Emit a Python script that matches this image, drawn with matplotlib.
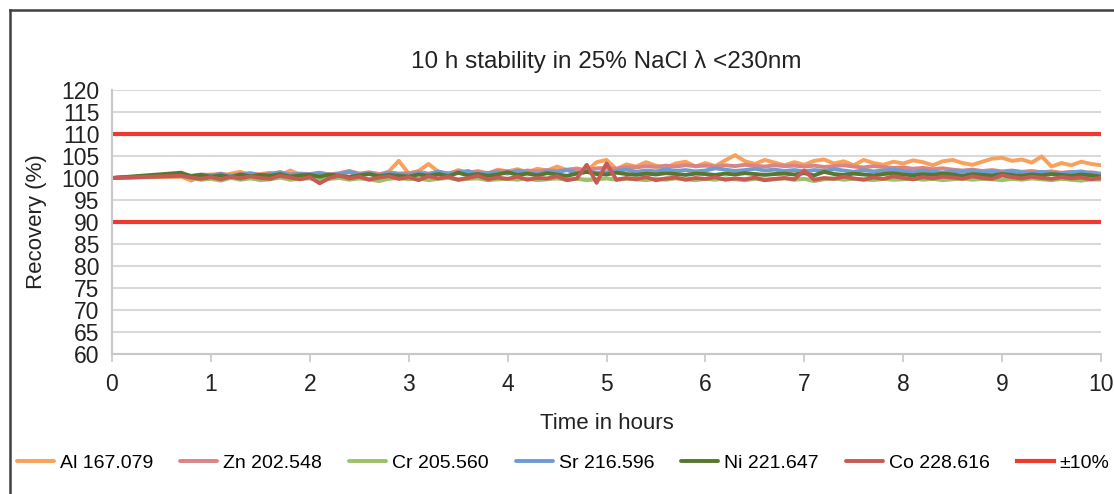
import numpy as np
import matplotlib.pyplot as plt
from matplotlib.lines import Line2D

plt.rcParams['font.family'] = ['Liberation Sans', 'DejaVu Sans']

# time axis: start point, then readings every 0.1 h from 0.7 h to 10 h
hours = np.concatenate([[0.0], np.round(np.arange(0.7, 10.001, 0.1), 1)])

al = [100.0,
      100.3, 99.4, 100.4,
      100.8, 100.3, 101.0, 101.4, 100.6, 100.9, 101.2, 100.5, 101.7, 100.8,
      100.6, 101.0, 100.4, 100.9, 101.3, 100.6, 101.0, 100.7, 101.5, 103.9,
      101.0, 101.6, 103.2, 101.4, 100.8, 101.8, 101.2, 101.6, 101.0, 101.9,
      101.5, 102.0, 101.3, 102.1, 101.7, 102.6, 101.8, 102.2, 101.6, 103.6,
      104.1, 102.0, 103.1, 102.6, 103.6, 102.8, 102.3, 103.3, 103.7, 102.6,
      103.4, 102.7, 104.0, 105.2, 103.8, 103.2, 104.1, 103.5, 102.9, 103.6,
      103.0, 103.9, 104.2, 103.3, 103.8, 102.9, 104.1, 103.4, 103.0, 103.7,
      103.3, 104.0, 103.6, 102.9, 103.8, 104.1, 103.4, 103.0, 103.7, 104.4,
      104.6, 103.9, 104.2, 103.5, 104.9, 102.6, 103.4, 102.9, 103.7, 103.2,
      102.9]

zn = [100.0,
      100.6, 100.5, 100.8,
      100.7, 101.0, 100.6, 100.9, 101.1, 100.7, 101.0, 101.3, 100.8, 101.0,
      100.9, 101.2, 100.8, 101.1, 101.6, 101.0, 101.3, 100.9, 101.2, 101.0,
      101.1, 101.4, 101.0, 101.3, 101.1, 101.5, 101.2, 101.4, 101.1, 101.6,
      101.5, 101.3, 101.7, 101.5, 101.8, 101.6, 101.9, 102.0, 101.8, 102.2,
      102.3, 102.1, 102.5, 102.4, 102.7, 102.5, 102.8, 102.6, 102.9, 102.7,
      102.8, 102.6, 102.9, 102.7, 103.0, 102.8, 102.6, 102.9, 102.7, 102.8,
      102.6, 102.8, 102.5, 102.7, 102.9, 102.6, 102.4, 102.7, 102.5, 102.3,
      102.4, 102.1, 102.3, 102.0, 102.2, 101.9, 101.7, 101.9, 101.6, 101.8,
      101.5, 101.7, 101.4, 101.6, 101.3, 101.5, 101.2, 101.4, 101.1, 101.3,
      101.0]

cr = [100.0,
      100.6, 99.9, 99.6,
      99.8, 99.4, 100.0, 99.6, 99.9, 99.5, 99.7, 100.1, 99.6, 99.8,
      99.9, 99.5, 99.8, 100.0, 99.6, 99.9, 99.7, 99.3, 99.8, 100.0,
      99.7, 99.9, 99.5, 99.8, 100.0, 99.6, 99.8, 99.9, 99.5, 99.7,
      99.8, 99.6, 99.9, 99.5, 99.7, 99.9, 99.6, 99.8, 99.5, 99.7,
      99.9, 99.6, 99.8, 99.7, 99.5, 99.8, 99.6, 99.9, 99.7, 99.5,
      99.8, 99.6, 99.9, 99.7, 99.5, 99.8, 99.6, 99.7, 99.9, 99.6,
      99.8, 99.3, 99.7, 99.9, 99.6, 99.8, 99.7, 99.5, 99.8, 99.6,
      99.7, 99.9, 99.6, 99.8, 99.5, 99.7, 99.9, 99.6, 99.8, 99.7,
      99.5, 99.8, 99.6, 99.9, 99.7, 99.5, 99.8, 99.6, 99.4, 99.7,
      99.6]

sr = [100.0,
      100.8, 100.4, 100.6,
      100.5, 100.9, 100.4, 100.7, 101.0, 100.6, 100.8, 101.3, 100.7, 100.9,
      100.8, 101.1, 100.6, 100.9, 101.4, 100.7, 101.0, 100.6, 101.2, 100.9,
      100.7, 101.0, 100.8, 101.5, 100.9, 101.2, 101.6, 100.8, 101.1, 101.3,
      101.0, 101.7, 101.2, 100.9, 101.5, 101.3, 101.8, 101.1, 101.4, 101.2,
      101.3, 101.6, 101.9, 101.4, 101.7, 101.5, 102.0, 101.6, 101.8, 101.5,
      101.7, 102.2, 101.9, 101.6, 101.8, 102.1, 101.7, 101.9, 101.6, 101.8,
      101.5, 101.8, 101.6, 102.0, 101.7, 101.4, 101.8, 101.5, 101.7, 101.9,
      101.6, 101.3, 101.7, 101.5, 101.2, 101.6, 101.4, 101.7, 101.3, 101.5,
      101.2, 101.6, 101.3, 101.1, 101.4, 101.2, 101.0, 101.3, 101.5, 101.1,
      100.8]

ni = [100.0,
      101.2, 100.4, 100.7,
      100.3, 100.6, 100.2, 100.8, 100.4, 100.7, 100.5, 100.9, 100.3, 100.6,
      100.7, 100.3, 100.8, 100.5, 100.2, 100.6, 100.9, 100.4, 100.7, 100.5,
      100.3, 100.8, 100.5, 100.9, 100.4, 101.2, 100.6, 100.9, 100.5, 100.8,
      101.3, 100.7, 101.0, 100.6, 101.1, 100.8, 100.5, 101.0, 101.4, 100.9,
      100.8, 101.2, 100.9, 100.7, 101.0, 100.8, 101.1, 100.9, 100.7, 101.0,
      100.9, 100.7, 101.0, 100.8, 101.1, 100.9, 100.7, 100.9, 101.0, 100.8,
      101.1, 100.6, 101.4, 100.9, 100.7, 101.0, 100.8, 100.6, 100.9, 101.1,
      100.8, 100.6, 100.9, 100.7, 101.0, 100.8, 100.5, 100.9, 100.7, 100.6,
      100.9, 100.7, 100.5, 100.8, 100.6, 100.9, 100.7, 100.5, 100.8, 100.6,
      100.3]

co = [100.0,
      100.5, 100.1, 99.8,
      100.2, 99.7, 100.3, 99.9, 100.4, 100.0, 99.8, 100.5, 100.1, 99.7,
      100.2, 98.8, 100.0, 100.6, 99.9, 100.3, 99.6, 100.1, 100.4, 99.8,
      100.2, 99.5, 100.4, 99.9, 100.3, 99.6, 100.0, 100.5, 99.7, 100.1,
      99.8, 100.3, 99.6, 100.0, 99.9, 100.4, 99.5, 99.9, 103.0, 98.9,
      103.3, 99.6, 100.0, 99.7, 100.2, 99.5, 99.9, 100.1, 99.6, 100.0,
      99.8, 100.2, 99.6, 99.9, 99.7, 100.1, 99.5, 99.8, 100.0, 99.7,
      101.7, 99.6, 100.0, 99.8, 100.3, 99.9, 99.6, 100.1, 99.8, 100.4,
      100.0, 99.7, 100.2, 99.9, 100.3, 100.1, 99.8, 100.4, 100.0, 99.8,
      100.6, 100.2, 99.9, 100.3, 100.0, 99.8, 100.2, 99.9, 100.1, 99.7,
      100.0]

limits = [110, 90]

series = [
    (al, 'Al 167.079', '#F9A05A'),
    (zn, 'Zn 202.548', '#D98585'),
    (cr, 'Cr 205.560', '#9DC16A'),
    (sr, 'Sr 216.596', '#6E9CD2'),
    (ni, 'Ni 221.647', '#56772C'),
    (co, 'Co 228.616', '#C85A55'),
]

fig = plt.figure(figsize=(11.14, 4.94), dpi=100)
ax = fig.add_axes([112/1114, 140/494, 989/1114, 264/494])

for vals, name, col in series:
    ax.plot(hours, vals, color=col, lw=2.8, label=name,
            solid_joinstyle='round', solid_capstyle='round')

for i, lim in enumerate(limits):
    ax.axhline(lim, color='#EE3A2C', lw=3, label='±10%' if i == 0 else None)

ax.set_xlim(0, 10)
ax.set_ylim(60, 120)
ax.set_yticks(range(60, 121, 5))
ax.set_xticks(range(0, 11))
ax.grid(axis='y', color='#D9D9D9', lw=1.5)
ax.set_axisbelow(True)
for s in ['top', 'right']:
    ax.spines[s].set_visible(False)
for s in ['left', 'bottom']:
    ax.spines[s].set_color('#C8C8C8')
    ax.spines[s].set_linewidth(1.5)
ax.tick_params(axis='y', length=0, labelsize=16.5, pad=9, colors='#222222')
ax.tick_params(axis='x', length=6, width=1.2, color='#C8C8C8', labelsize=16.5,
               pad=8, labelcolor='#222222')

ax.set_title('10 h stability in 25% NaCl λ <230nm', fontsize=17.5, pad=16, color='#222222')
ax.set_xlabel('Time in hours', fontsize=16, labelpad=12, color='#222222')
ax.set_ylabel('Recovery (%)', fontsize=16, labelpad=10, color='#222222')

ax.legend(loc='center left', bbox_to_anchor=(17/1114, 31/494),
          bbox_transform=fig.transFigure, ncol=7, frameon=False,
          fontsize=14, handlelength=1.9, handletextpad=0.3, columnspacing=1.4,
          borderaxespad=0, borderpad=0)

# outer chart border
fig.add_artist(Line2D([10/1114, 10/1114], [0, 1 - 10/494], color='#404040', lw=1.8))
fig.add_artist(Line2D([10/1114, 1], [1 - 10/494, 1 - 10/494], color='#404040', lw=1.8))

fig.savefig('out.png', dpi=100)
